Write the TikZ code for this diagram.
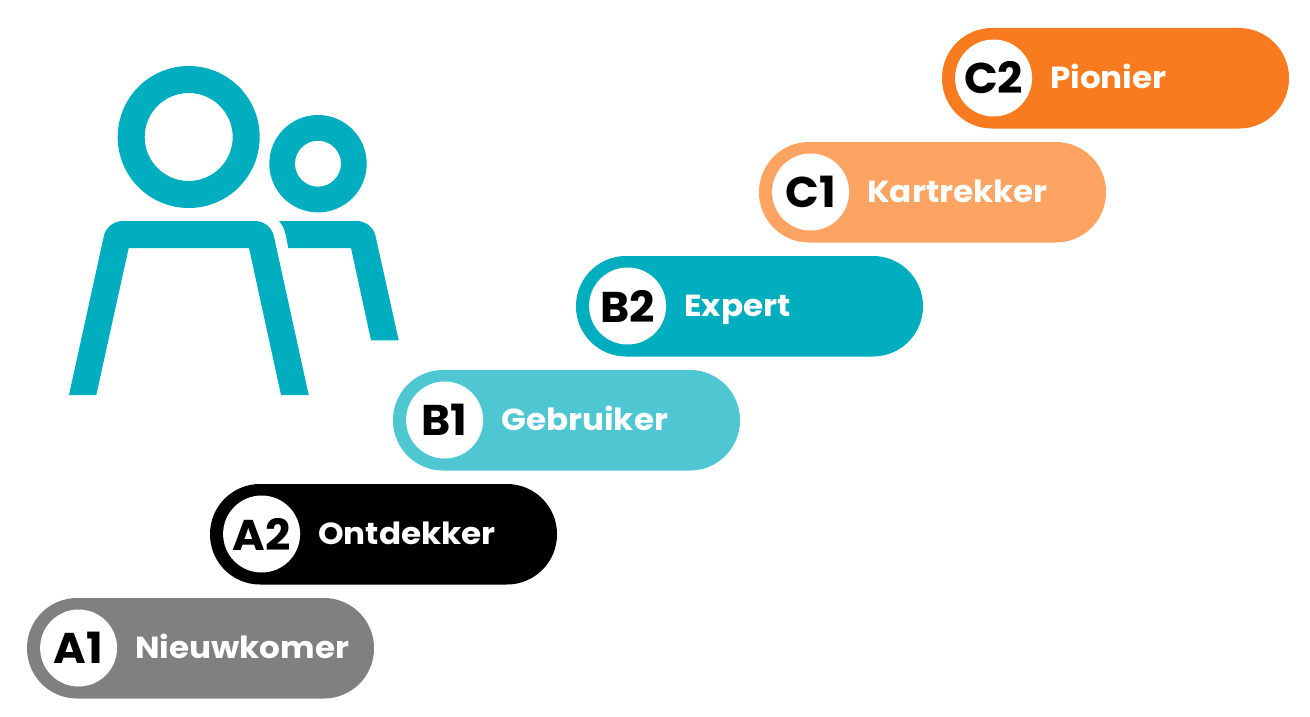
\documentclass[tikz,border=0pt]{standalone}
\usepackage{fontspec}
\setmainfont{Poppins}
\newfontfamily\lvlfont[FakeStretch=1.07]{Poppins}
\newfontfamily\badgefont[FakeStretch=1.03]{Poppins}
\usetikzlibrary{calc}
\definecolor{teal1}{HTML}{00AEBF}
\definecolor{teal2}{HTML}{4FC7D3}
\definecolor{grey1}{HTML}{808080}
\definecolor{orange1}{HTML}{F97B1F}
\definecolor{orange2}{HTML}{FDA462}
\tikzset{
  x=1pt,y=-1pt,
  pill/.style={minimum width=347pt,minimum height=100.5pt,rounded corners=50pt,inner sep=0pt,anchor=north west,outer sep=0pt},
  badge/.style={circle,fill=white,minimum size=77pt,inner sep=0pt,font=\badgefont\bfseries\fontsize{43}{43}\selectfont,text=black},
  lvl/.style={anchor=base west,inner sep=0pt,text=white,font=\lvlfont\bfseries\fontsize{30.5}{30.5}\selectfont},
  icon/.style={fill=teal1,draw=none,even odd rule},
}
\newcommand{\levelpill}[6]{%
  \node[pill,fill=#3] (p#4) at (#1,#2) {};
  \node[badge] (b#4) at (#1+51.6,#2+50) {#5};
  \node[lvl] (t#4) at (#1+108,#2+60.5) {#6};
}
\begin{document}
\begin{tikzpicture}
\useasboundingbox (0,0) rectangle (1310,717);
\levelpill{27}{598}{grey1}{A1}{A1}{Nieuwkomer}
\levelpill{210}{484}{black}{A2}{A2}{Ontdekker}
\levelpill{393}{370}{teal2}{B1}{B1}{Gebruiker}
\levelpill{576}{256}{teal1}{B2}{B2}{Expert}
\levelpill{759}{142}{orange2}{C1}{C1}{Kartrekker}
\levelpill{942}{28}{orange1}{C2}{C2}{Pionier}
% icon
\fill[icon] (188.7,137) circle[radius=71] (188.7,137) circle[radius=44];
\fill[icon] (318,163.7) circle[radius=48.7] (318,163.7) circle[radius=23];
\fill[icon] (69,395) -- (103.7,236.7) .. controls (105.5,227.5) and (113.5,221) .. (122.7,221)
  -- (255,221) .. controls (264.2,221) and (272.2,227.5) .. (274,236.7)
  -- (308.7,395) -- (281,395) -- (249,248) -- (128.7,248) -- (96.3,395) -- cycle;
\fill[icon] (279,221) -- (356.7,221) .. controls (365.9,221) and (373.9,227.5) .. (375.7,236.7)
  -- (398.7,340.3) -- (371,340.3) -- (351,248) -- (288.3,248) -- (285.7,235)
  .. controls (284.8,230) and (282.5,225) .. (279,221) -- cycle;
\end{tikzpicture}
\end{document}
